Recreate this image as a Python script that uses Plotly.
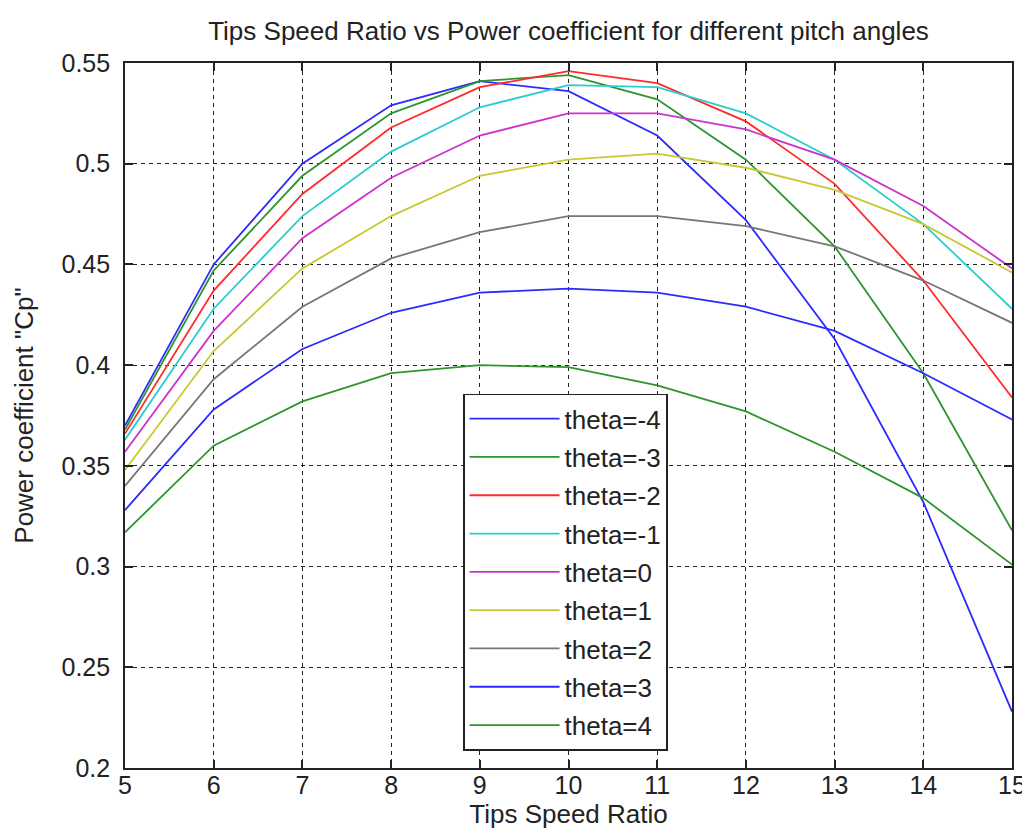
import plotly.graph_objects as go

tsr = [5, 6, 7, 8, 9, 10, 11, 12, 13, 14, 15]

cp_m4 = [0.370, 0.450, 0.500, 0.529, 0.541, 0.536, 0.514, 0.472, 0.413, 0.332, 0.228]
cp_m3 = [0.368, 0.447, 0.494, 0.525, 0.541, 0.544, 0.532, 0.502, 0.459, 0.396, 0.318]
cp_m2 = [0.366, 0.437, 0.485, 0.518, 0.538, 0.546, 0.540, 0.521, 0.490, 0.442, 0.384]
cp_m1 = [0.363, 0.428, 0.474, 0.506, 0.528, 0.539, 0.538, 0.525, 0.502, 0.470, 0.428]
cp_0 = [0.357, 0.417, 0.463, 0.493, 0.514, 0.525, 0.525, 0.517, 0.502, 0.479, 0.448]
cp_p1 = [0.348, 0.407, 0.448, 0.474, 0.494, 0.502, 0.505, 0.498, 0.487, 0.470, 0.446]
cp_p2 = [0.340, 0.393, 0.429, 0.453, 0.466, 0.474, 0.474, 0.469, 0.459, 0.442, 0.421]
cp_p3 = [0.328, 0.378, 0.408, 0.426, 0.436, 0.438, 0.436, 0.429, 0.417, 0.396, 0.373]
cp_p4 = [0.317, 0.360, 0.382, 0.396, 0.400, 0.399, 0.390, 0.377, 0.357, 0.334, 0.301]

series_names = ["theta=-4", "theta=-3", "theta=-2", "theta=-1", "theta=0",
                "theta=1", "theta=2", "theta=3", "theta=4"]
series_values = [cp_m4, cp_m3, cp_m2, cp_m1, cp_0, cp_p1, cp_p2, cp_p3, cp_p4]
colors = ["#2b2bff", "#2e952e", "#ff2b2b", "#2bcccc", "#cc33cc",
          "#c8c830", "#777777", "#2b2bff", "#2e952e"]

x_ticks = [5, 6, 7, 8, 9, 10, 11, 12, 13, 14, 15]
y_ticks = [0.2, 0.25, 0.3, 0.35, 0.4, 0.45, 0.5, 0.55]
y_labels = ["0.2", "0.25", "0.3", "0.35", "0.4", "0.45", "0.5", "0.55"]

fig = go.Figure()
for i, (name, vals, col) in enumerate(zip(series_names, series_values, colors)):
    fig.add_trace(go.Scatter(x=tsr, y=vals, mode="lines", name=name,
                             legendgroup=f"g{i}",
                             line=dict(color=col, width=1.8)))

font_family = "Liberation Sans, Arial, sans-serif"
axis_common = dict(
    showline=True, linecolor="#222222", linewidth=1.6, mirror="ticks",
    ticks="inside", ticklen=8, tickcolor="#222222", tickwidth=1.6,
    showgrid=True, gridcolor="#222222", gridwidth=1.4, griddash="4px,4px",
    zeroline=False, tickfont=dict(size=25, color="#222222", family=font_family),
)

fig.update_layout(
    width=1030, height=835,
    margin=dict(l=117, r=18, t=55, b=75),
    paper_bgcolor="white", plot_bgcolor="white",
    font=dict(family=font_family, color="#222222"),
    title=dict(text="Tips Speed Ratio vs Power coefficient for different pitch angles",
               xref="paper", x=0.5, xanchor="center", y=0.972, yanchor="middle",
               font=dict(size=26, color="#222222", family=font_family)),
    xaxis=dict(range=[5, 15], tickvals=x_ticks, ticktext=[str(v) for v in x_ticks],
               ticklabelstandoff=-6,
               title=dict(text="Tips Speed Ratio", font=dict(size=26), standoff=2),
               **axis_common),
    yaxis=dict(range=[0.2, 0.55], tickvals=y_ticks, ticktext=y_labels,
               ticklabelstandoff=8,
               title=dict(text='Power coefficient "Cp"', font=dict(size=26), standoff=20),
               **axis_common),
    legend=dict(x=0.381, y=0.531, xanchor="left", yanchor="top",
                bgcolor="white", bordercolor="#222222", borderwidth=1.6,
                font=dict(size=26, color="#222222", family=font_family),
                tracegroupgap=1.5, itemwidth=90),
    showlegend=True,
)

fig.write_html("out.html")
